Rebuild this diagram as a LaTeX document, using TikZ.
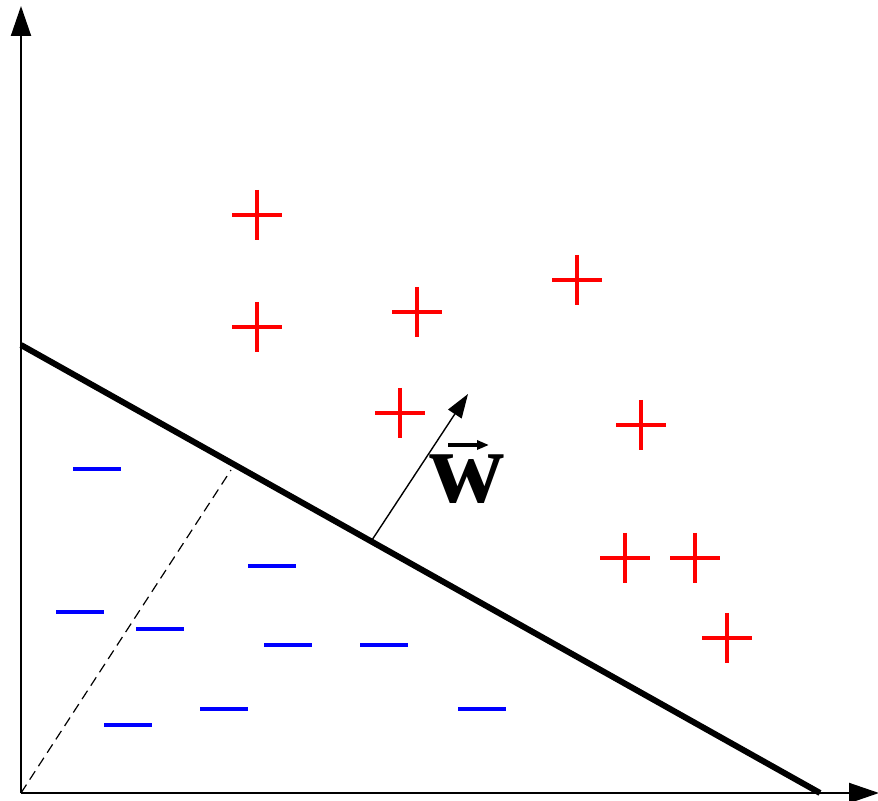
\documentclass[tikz,border=0pt]{standalone}
\usepackage{fontspec}
\setmainfont{Liberation Serif}
\usetikzlibrary{arrows.meta}
\begin{document}
\begin{tikzpicture}[x=0.5pt,y=-0.5pt,
  axis/.style={line width=1pt,-{Triangle[length=15pt,width=10pt]}},
  sep/.style={line width=3pt},
  wvec/.style={line width=0.7pt,-{Triangle[length=12pt,width=8pt]}},
  pos/.pic={\draw[red,line width=2pt] (-25,0) -- (25,0) (0,-25) -- (0,25);},
  neg/.pic={\draw[blue,line width=2pt] (-24,0) -- (24,0);}]
\useasboundingbox (0,0) rectangle (878,801);
\coordinate (O) at (21,793);
\coordinate (Y) at (21,6);
\coordinate (X) at (879,793);
\draw[axis] (O) -- (Y);
\draw[axis] (O) -- (X);
\coordinate (A) at (21,345);
\coordinate (B) at (820,793);
\draw[sep] (A) -- (B);
\coordinate (F) at (231,470);
\draw[dashed,line width=0.6pt,dash pattern=on 5pt off 3pt] (O) -- (F);
\coordinate (W0) at (372,540);
\coordinate (W1) at (468,394);
\draw[wvec] (W0) -- (W1);
\node[font=\fontsize{52}{56}\selectfont\bfseries,inner sep=0pt,anchor=base] (wl) at (467,503) {w};
\coordinate (WA) at (448,445);
\coordinate (WB) at (489,445);
\draw[line width=1.6pt,-{Triangle[length=6pt,width=4.5pt]}] (WA) -- (WB);
\foreach \p in {(257,215),(257,327),(417,312),(577,280),(400,413),(641,425),(625,558),(695,558),(727,638)}
  \pic at \p {pos};
\foreach \p in {(97,469),(272,566),(80,612),(160,629),(288,645),(384,645),(128,725),(224,709),(482,709)}
  \pic at \p {neg};
\end{tikzpicture}
\end{document}
